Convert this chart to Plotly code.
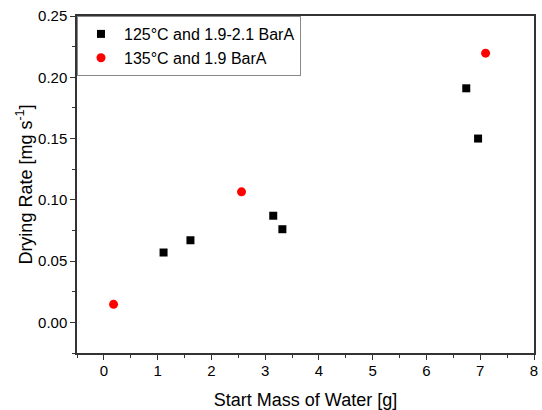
import plotly.graph_objects as go

# Data
mass_125 = [1.11, 1.61, 3.15, 3.32, 6.74, 6.96]
rate_125 = [0.057, 0.067, 0.087, 0.076, 0.191, 0.150]
mass_135 = [0.18, 2.56, 7.10]
rate_135 = [0.0147, 0.1065, 0.2197]
name_125 = "125°C and 1.9-2.1 BarA"
name_135 = "135°C and 1.9 BarA"

FONT = "Liberation Sans"

fig = go.Figure()
fig.add_trace(go.Scatter(x=mass_125, y=rate_125, mode="markers", name=name_125,
                         marker=dict(symbol="square", size=8, color="black")))
fig.add_trace(go.Scatter(x=mass_135, y=rate_135, mode="markers", name=name_135,
                         marker=dict(symbol="circle", size=9, color="#ff0000")))

axis_common = dict(showgrid=False, zeroline=False, showline=True, linecolor="#333333",
                   linewidth=1.5, mirror=True, ticks="outside", ticklen=5, tickwidth=1.2,
                   tickcolor="#333333", tickfont=dict(family=FONT, size=15, color="black"),
                   automargin=False)

fig.update_xaxes(range=[-0.5, 8], dtick=1, tick0=0,
                 minor=dict(ticks="outside", dtick=0.5, ticklen=3, tickcolor="#333333"),
                 ticklabelstandoff=-2,
                 title=dict(text="Start Mass of Water [g]", font=dict(family=FONT, size=18, color="black"), standoff=16),
                 **axis_common)
fig.update_yaxes(range=[-0.025, 0.25], dtick=0.05, tick0=0, tickformat=".2f",
                 minor=dict(ticks="outside", dtick=0.025, ticklen=3, tickcolor="#333333"),
                 title=dict(text="Drying Rate [mg s<sup>-1</sup>]", font=dict(family=FONT, size=18, color="black"), standoff=1),
                 **axis_common)

fig.update_layout(
    width=542, height=410,
    margin=dict(l=77, r=8, t=16, b=57),
    paper_bgcolor="white", plot_bgcolor="white",
    font=dict(family=FONT),
    showlegend=True,
    legend=dict(x=0, y=1, xanchor="left", yanchor="top", bgcolor="white",
                bordercolor="#888888", borderwidth=1,
                font=dict(family=FONT, size=16, color="black"),
                tracegroupgap=0, itemwidth=36),
)

fig.write_html("out.html")
